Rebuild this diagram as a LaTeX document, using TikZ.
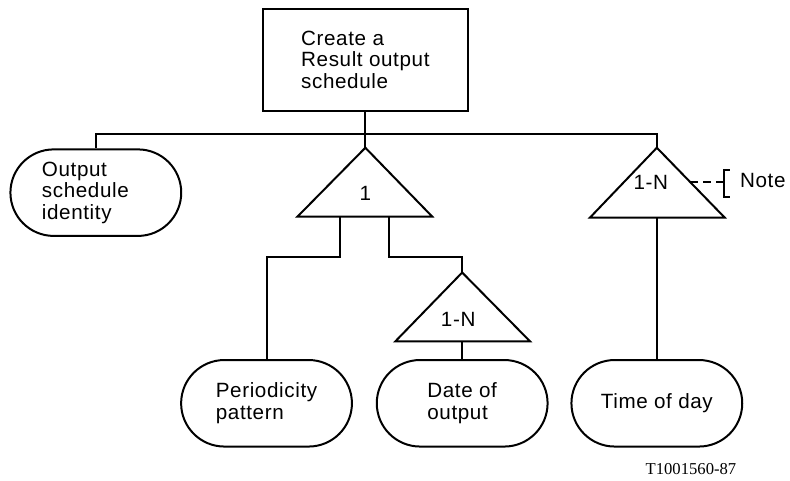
\documentclass[tikz,border=0pt]{standalone}
\usepackage{fontspec}
\setmainfont[LetterSpace=3]{Liberation Sans}
\newfontfamily\refnofont{Liberation Serif}
\usetikzlibrary{positioning, shapes.misc}

\begin{document}
\begin{tikzpicture}[
        x=0.75pt, y=-0.75pt,
        line width=1.5pt,
        every node/.style={font=\fontsize{15.5pt}{16pt}\selectfont},
        task/.style={rectangle, draw, align=left, minimum width=154.5pt, minimum height=76.5pt},
        item/.style={rounded rectangle, draw, align=left, minimum width=135pt, minimum height=65pt},
        tri/.style={draw, line join=miter}
    ]
    % top task
    \node[task] (create) at (366,60) {Create a\\Result output\\schedule};
    \coordinate (bar) at (366,134);

    % leaves
    \node[item, text width=81pt] (ident) at (96,193) {Output\\schedule\\identity};
    \node[item] (period) at (267,404) {Periodicity\\pattern};
    \node[item] (date) at (463,404) {Date of\\output};
    \node[item] (time) at (658,404) {Time of day};

    % choice triangles
    \coordinate (onetop) at (366,148);
    \coordinate (datetop) at (463,273);
    \coordinate (timetop) at (658,148);
    \draw[tri] (onetop) -- ++(-68,69) -- ++(135,0) -- cycle;
    \draw[tri] (datetop) -- ++(-67,69) -- ++(135,0) -- cycle;
    \draw[tri] (timetop) -- ++(-67,70) -- ++(135,0) -- cycle;
    \node (one) at (366,194) {1};
    \node (datemult) at (459,320) {1-N};
    \node (timemult) at (652,183) {1-N};

    % connectors
    \draw (create) -- (bar);
    \draw (ident.north) |- (bar) -| (timetop);
    \draw (bar) -- (onetop);
    \draw (341,217) coordinate (onel) -- ++(0,40) -| (period.north);
    \draw (390,217) coordinate (oner) -- ++(0,40) -| (datetop);
    \draw (463,342) coordinate (datebase) -- (date.north);
    \draw (658,218) coordinate (timebase) -- (time.north);

    % note
    \coordinate (noteat) at (691,182);
    \draw[dashed, line width=1.3pt, dash pattern=on 6pt off 4pt] (noteat) -- (725,182) coordinate (brack);
    \draw (731,170) -- (725,170) -- (725,197) -- (731,197);
    \node[anchor=west] (note) at (736,181) {Note};

    \node[anchor=east, font=\refnofont\fontsize{12.5pt}{14pt}\selectfont] (refno) at (743,470) {T1001560-87};

    \useasboundingbox (0,0) rectangle (790,481);
\end{tikzpicture}
\end{document}
